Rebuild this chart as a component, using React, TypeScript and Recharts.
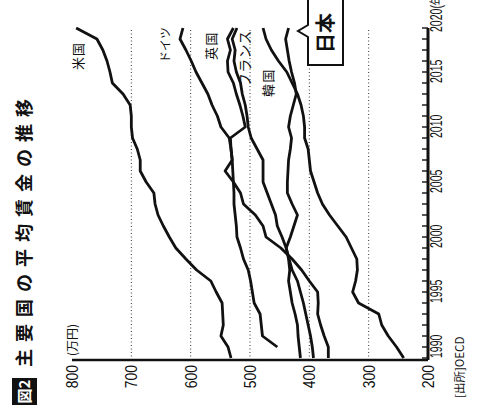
import React from "react";
import { LineChart, Line, XAxis, YAxis, ReferenceLine } from "recharts";

// 1990..2020, values in 万円
const years = [
  1990, 1991, 1992, 1993, 1994, 1995, 1996, 1997, 1998, 1999, 2000,
  2001, 2002, 2003, 2004, 2005, 2006, 2007, 2008, 2009, 2010,
  2011, 2012, 2013, 2014, 2015, 2016, 2017, 2018, 2019, 2020,
];
const usa = [
  532, 537, 549, 545, 546, 547, 557, 566, 590, 608, 625,
  636, 646, 655, 660, 662, 675, 685, 685, 690, 698,
  700, 700, 702, 714, 732, 736, 741, 748, 758, 793,
];
const germany = [
  null, 454, 479, 481, 483, 493, 496, 499, 503, 511, 516,
  522, 523, 525, 527, 527, 528, 529, 530, 532, 535,
  549, 555, 564, 571, 581, 591, 599, 608, 618, 613,
];
const uk = [
  368, 368, 375, 381, 386, 385, 386, 400, 413, 429, 448,
  473, 478, 491, 511, 516, 528, 542, 530, 532, 533,
  508, 512, 517, 523, 528, 537, 538, 533, 538, 528,
];
const france = [
  393, 395, 398, 402, 406, 410, 415, 420, 429, 434, 439,
  446, 454, 457, 464, 471, 478, 478, 478, 488, 498,
  503, 505, 508, 513, 516, 523, 527, 525, 530, 522,
];
const korea = [
  241, 253, 267, 278, 283, 317, 327, 322, 319, 320, 329,
  338, 352, 366, 378, 386, 392, 398, 400, 402, 408,
  408, 410, 414, 420, 429, 438, 452, 464, 473, 478,
];
const japan = [
  415, 417, 419, 420, 424, 429, 432, 435, 433, 435, 439,
  432, 426, 420, 429, 437, 437, 436, 435, 432, 430,
  435, 432, 427, 422, 425, 430, 434, 437, 440, 435,
];
const valueTicks = [200, 300, 400, 500, 600, 700, 800];
const gridValues = [300, 400, 500, 600, 700];

const data = years.map((year, i) => ({
  year,
  usa: usa[i],
  germany: germany[i],
  uk: uk[i],
  france: france[i],
  korea: korea[i],
  japan: japan[i],
}));

const series = ["usa", "germany", "uk", "france", "korea", "japan"];

const digitFont = "'Liberation Sans', Arial, sans-serif";
const jpFont = "'Noto Sans CJK JP', 'Noto Sans', sans-serif";
const ink = "#111";

function ValueTick(props: any) {
  const { x, y, payload } = props;
  return (
    <g transform={`translate(${x - 5},${y}) scale(0.82,1)`}>
      <text textAnchor="end" dy="0.36em" fontSize={17} fontFamily={digitFont} fill={ink}>
        {payload.value}
      </text>
    </g>
  );
}

function YearTick(props: any) {
  const { x, y, payload } = props;
  const yr = payload.value;
  const last = yr === 2020;
  return (
    <g>
      <line x1={x} x2={x} y1={y} y2={y - 6} stroke={ink} strokeWidth={1.4} />
      {yr % 5 === 0 && (
        <g transform={`translate(${last ? x - 4 : x},${y + 14}) scale(0.66,1)`}>
          <text fontSize={16} fontFamily={digitFont} fill={ink}>
            {last ? "2020(年)" : yr}
          </text>
        </g>
      )}
    </g>
  );
}

// chart drawn upright (406 x 478) and turned a quarter turn, as in the print
function Chart() {
  return (
    <div style={{ position: "relative", width: 406, height: 478, background: "#fff" }}>
      <LineChart width={406} height={478} data={data}
        margin={{ top: 72, right: 28, bottom: 20, left: 0 }}>
        {gridValues.map((v) => (
          <ReferenceLine key={v} y={v} stroke="#333" strokeWidth={1} strokeDasharray="1 2.5" />
        ))}
        <XAxis dataKey="year" type="number" domain={[1990, 2020]} ticks={years}
          interval={0} padding={{ left: 2, right: 0 }} height={30}
          tickSize={0} tickMargin={0} tickLine={false} tick={<YearTick />}
          axisLine={{ stroke: ink, strokeWidth: 3 }} />
        <YAxis type="number" domain={[200, 800]} ticks={valueTicks} width={46}
          tickSize={0} tickMargin={0} tickLine={false} tick={<ValueTick />}
          axisLine={{ stroke: ink, strokeWidth: 2.5 }} />
        {series.map((k) => (
          <Line key={k} dataKey={k} type="linear" stroke={ink} strokeWidth={2.8}
            dot={false} isAnimationActive={false} strokeLinejoin="round" />
        ))}
      </LineChart>
      <svg width={406} height={478}
        style={{ position: "absolute", left: 0, top: 0, pointerEvents: "none" }}>
        <rect x={1} y={12} width={27} height={25} fill={ink} />
        <text x={14.5} y={30} textAnchor="middle" fontSize={15} fontWeight="bold"
          fontFamily={jpFont} fill="#fff">図2</text>
        <text x={39} y={31} fontSize={18} fontWeight="bold" letterSpacing={7}
          fontFamily={jpFont} fill={ink}>主要国の平均賃金の推移</text>
        <text x={50} y={76.5} fontSize={12} fontFamily={jpFont} fill={ink}>(万円)</text>

        <text x={336} y={83} fontSize={13} letterSpacing={1} fontFamily={jpFont} fill={ink}>米国</text>
        <text x={343} y={169.5} fontSize={12} fontFamily={jpFont} fill={ink}>ドイツ</text>
        <text x={346} y={215.5} fontSize={13} letterSpacing={1.5} fontFamily={jpFont} fill={ink}>英国</text>
        <text x={319} y={250} fontSize={14} letterSpacing={0.3} fontFamily={jpFont} fill={ink}>フランス</text>
        <text x={309} y={272.5} fontSize={13} letterSpacing={1.5} fontFamily={jpFont} fill={ink}>韓国</text>

        <path d="M410 308 L381 308 L375 298 L369 308 L341 308 L341 343 L410 343"
          fill="#fff" stroke={ink} strokeWidth={2} />
        <text x={353} y={333} fontSize={20} fontWeight="bold" fontFamily={jpFont} fill={ink}>日本</text>

        <text x={8} y={464} fontSize={11.5} fontFamily={jpFont} fill={ink}>[出所]OECD</text>
      </svg>
    </div>
  );
}

export default function App() {
  return (
    <div style={{ position: "absolute", left: 0, top: 0, width: 478, height: 406,
      overflow: "hidden", background: "#fff" }}>
      <div style={{ position: "absolute", left: 0, top: 0, width: 406, height: 478,
        transformOrigin: "0 0", transform: "translate(0px, 406px) rotate(-90deg)" }}>
        <Chart />
      </div>
    </div>
  );
}
